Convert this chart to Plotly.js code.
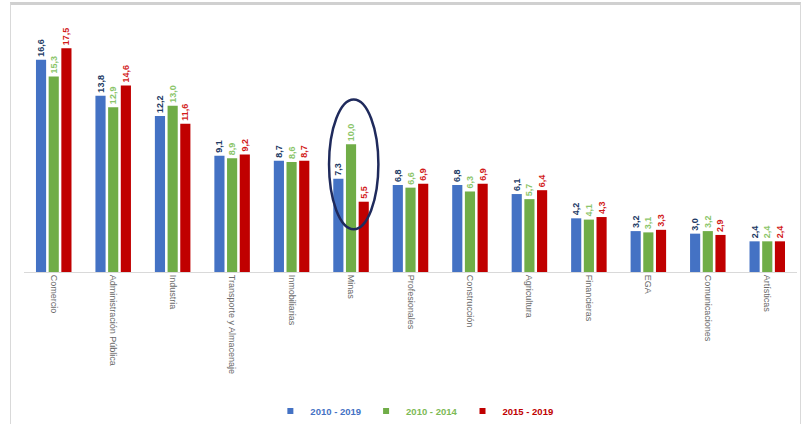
<!DOCTYPE html>
<html>
<head>
<meta charset="utf-8">
<script src="https://cdn.plot.ly/plotly-3.0.1.min.js"></script>
<style>
  html, body { margin: 0; padding: 0; background: #ffffff; }
  #wrap { position: relative; width: 809px; height: 424px; overflow: hidden; }
  #frame { position: absolute; left: 10px; top: 2px; width: 789px; height: 440px;
           border: 1px solid #d9d9d9; border-top: 3px solid #d0d0d0; pointer-events: none; }
  #chart { position: absolute; left: 0; top: 0; width: 809px; height: 424px; }
</style>
</head>
<body>
<div id="wrap">
  <div id="chart"></div>
  <div id="frame"></div>
</div>
<script>
const categories = ["Comercio", "Administración Pública", "Industria", "Transporte y Almacenaje",
  "Inmobiliarias", "Minas", "Profesionales", "Construcción", "Agricultura",
  "Financieras", "EGA", "Comunicaciones", "Artísticas"];
const seriesNames = ["2010 - 2019", "2010 - 2014", "2015 - 2019"];
const values2010_2019 = [16.6, 13.8, 12.2, 9.1, 8.7, 7.3, 6.8, 6.8, 6.1, 4.2, 3.2, 3.0, 2.4];
const values2010_2014 = [15.3, 12.9, 13.0, 8.9, 8.6, 10.0, 6.6, 6.3, 5.7, 4.1, 3.1, 3.2, 2.4];
const values2015_2019 = [17.5, 14.6, 11.6, 9.2, 8.7, 5.5, 6.9, 6.9, 6.4, 4.3, 3.3, 2.9, 2.4];
const highlighted = "Minas";

const barColors = ["#4472C4", "#70AD47", "#C00000"];
const labelColors = ["#203864", "#8BC56A", "#D21A1A"];
const legendTextColors = ["#4472C4", "#7DBA55", "#C00000"];
const allValues = [values2010_2019, values2010_2014, values2015_2019];

const barTraces = allValues.map((vals, i) => ({
  type: "bar",
  x: categories,
  y: vals,
  name: seriesNames[i],
  showlegend: false,
  marker: { color: barColors[i] },
  texttemplate: "%{y:.1f}",
  textposition: "outside",
  textangle: -90,
  constraintext: "none",
  cliponaxis: false,
  textfont: { family: "Liberation Sans, Arial, sans-serif", size: 9, color: labelColors[i], weight: "bold" },
  hoverinfo: "skip"
}));

const legendTraces = seriesNames.map((n, i) => ({
  type: "scatter", mode: "markers",
  x: [null], y: [null],
  name: '<span style="color:' + legendTextColors[i] + '"><b>' + n + '</b></span>',
  marker: { symbol: "square", size: 6, color: barColors[i] },
  showlegend: true,
  hoverinfo: "skip"
}));

const hi = categories.indexOf(highlighted);

const layout = {
  width: 809, height: 424,
  margin: { l: 24, r: 12, t: 10, b: 152, autoexpand: false },
  paper_bgcolor: "rgba(0,0,0,0)",
  plot_bgcolor: "rgba(0,0,0,0)",
  separators: ",.",
  barmode: "group",
  bargap: 0.36,
  bargroupgap: 0.2,
  showlegend: true,
  legend: {
    orientation: "h", x: 0.505, xanchor: "center", y: -0.475, yanchor: "top",
    font: { family: "Liberation Sans, Arial, sans-serif", size: 9.5 },
    itemwidth: 30, tracegroupgap: 0
  },
  xaxis: {
    type: "category",
    tickangle: 90,
    automargin: false,
    showline: true, linecolor: "#d9d9d9", linewidth: 1,
    ticks: "", showgrid: false,
    tickfont: { family: "Liberation Sans, Arial, sans-serif", size: 9, color: "#6a6a6a" },
    fixedrange: true
  },
  yaxis: {
    range: [0, 20.5],
    automargin: false,
    visible: false, showgrid: false, zeroline: false,
    fixedrange: true
  },
  shapes: [{
    type: "circle", xref: "x", yref: "y",
    x0: hi - 0.37, x1: hi + 0.46, y0: 3.35, y1: 13.5,
    line: { color: "#1F2A5C", width: 2.5 }
  }]
};

Plotly.newPlot("chart", barTraces.concat(legendTraces), layout, { displayModeBar: false, staticPlot: true });
</script>
</body>
</html>
